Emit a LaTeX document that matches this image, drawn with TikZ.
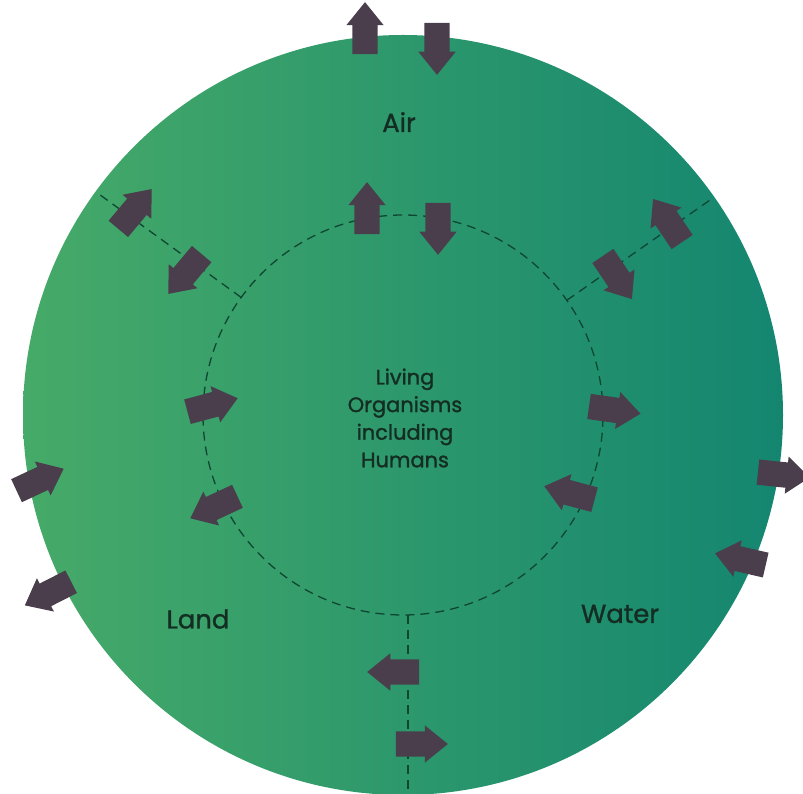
\documentclass[tikz,border=0pt]{standalone}
\usepackage{fontspec}
\setmainfont{Poppins}
\newfontfamily\regionfont{Poppins}[FakeBold=1.2]
\usetikzlibrary{shapes.arrows,calc}
\definecolor{landgreen}{RGB}{70,170,104}
\definecolor{watergreen}{RGB}{20,134,112}
\definecolor{arrowgrey}{RGB}{74,62,76}
\definecolor{linegreen}{RGB}{15,70,50}
\definecolor{labelink}{RGB}{20,45,35}
\begin{document}
\begin{tikzpicture}[x=1bp, y=1bp,
  flow/.style={single arrow, fill=arrowgrey, draw=none, minimum height=52bp,
    inner xsep=0pt, inner ysep=12.5bp, single arrow head extend=6bp,
    single arrow tip angle=78, text height=0pt, text depth=0pt},
  boundary/.style={linegreen, line width=1.3bp, dash pattern=on 9bp off 6bp},
  region/.style={labelink, font=\regionfont\fontsize{26}{30}\selectfont}]
\useasboundingbox (0,0) rectangle (803,794);
\coordinate (c) at (403,379);
% the whole environment
\shade[left color=landgreen, right color=watergreen] (c) circle (380);
% living organisms and the borders between air, land and water
\draw[boundary] (c) circle (200);
\coordinate (ulin) at ($(c)+(144:200)$);
\coordinate (ulout) at ($(c)+(144:380)$);
\coordinate (urin) at ($(c)+(35:200)$);
\coordinate (urout) at ($(c)+(35:380)$);
\coordinate (botin) at (408,179);
\coordinate (botout) at (408,0);
\draw[boundary] (ulin) -- (ulout);
\draw[boundary] (urin) -- (urout);
\draw[boundary] (botin) -- (botout);
% labels
\node[region] (air) at (399,672) {Air};
\node[region] (land) at (198,175) {Land};
\node[region] (water) at (620,180) {Water};
\node[labelink, align=center, font=\regionfont\fontsize{21}{27.7}\selectfont] (life) at (405,376)
  {Living\\Organisms\\including\\Humans};
% exchanges with the outside
\node[flow, rotate=90] (outa) at (365,758) {};
\node[flow, rotate=-90] (outb) at (437,753) {};
\node[flow, rotate=25] (outc) at (33,311) {};
\node[flow, rotate=207] (outd) at (55,204) {};
\node[flow, rotate=-6] (oute) at (776,320) {};
\node[flow, rotate=167] (outf) at (748,233) {};
% exchanges with living organisms
\node[flow, rotate=90] (lifea) at (367,578) {};
\node[flow, rotate=-90] (lifeb) at (438,573) {};
\node[flow, rotate=15] (lifec) at (205,387) {};
\node[flow, rotate=205] (lifed) at (221,290) {};
\node[flow, rotate=-8] (lifee) at (607,385) {};
\node[flow, rotate=165] (lifef) at (577,299) {};
% exchanges across the borders
\node[flow, rotate=50] (landair) at (130,579) {};
\node[flow, rotate=230] (airland) at (190,526) {};
\node[flow, rotate=124] (waterair) at (672,567) {};
\node[flow, rotate=-56] (airwater) at (613,523) {};
\node[flow, rotate=180] (waterland) at (401,122) {};
\node[flow, rotate=0] (landwater) at (414,50) {};
\end{tikzpicture}
\end{document}
